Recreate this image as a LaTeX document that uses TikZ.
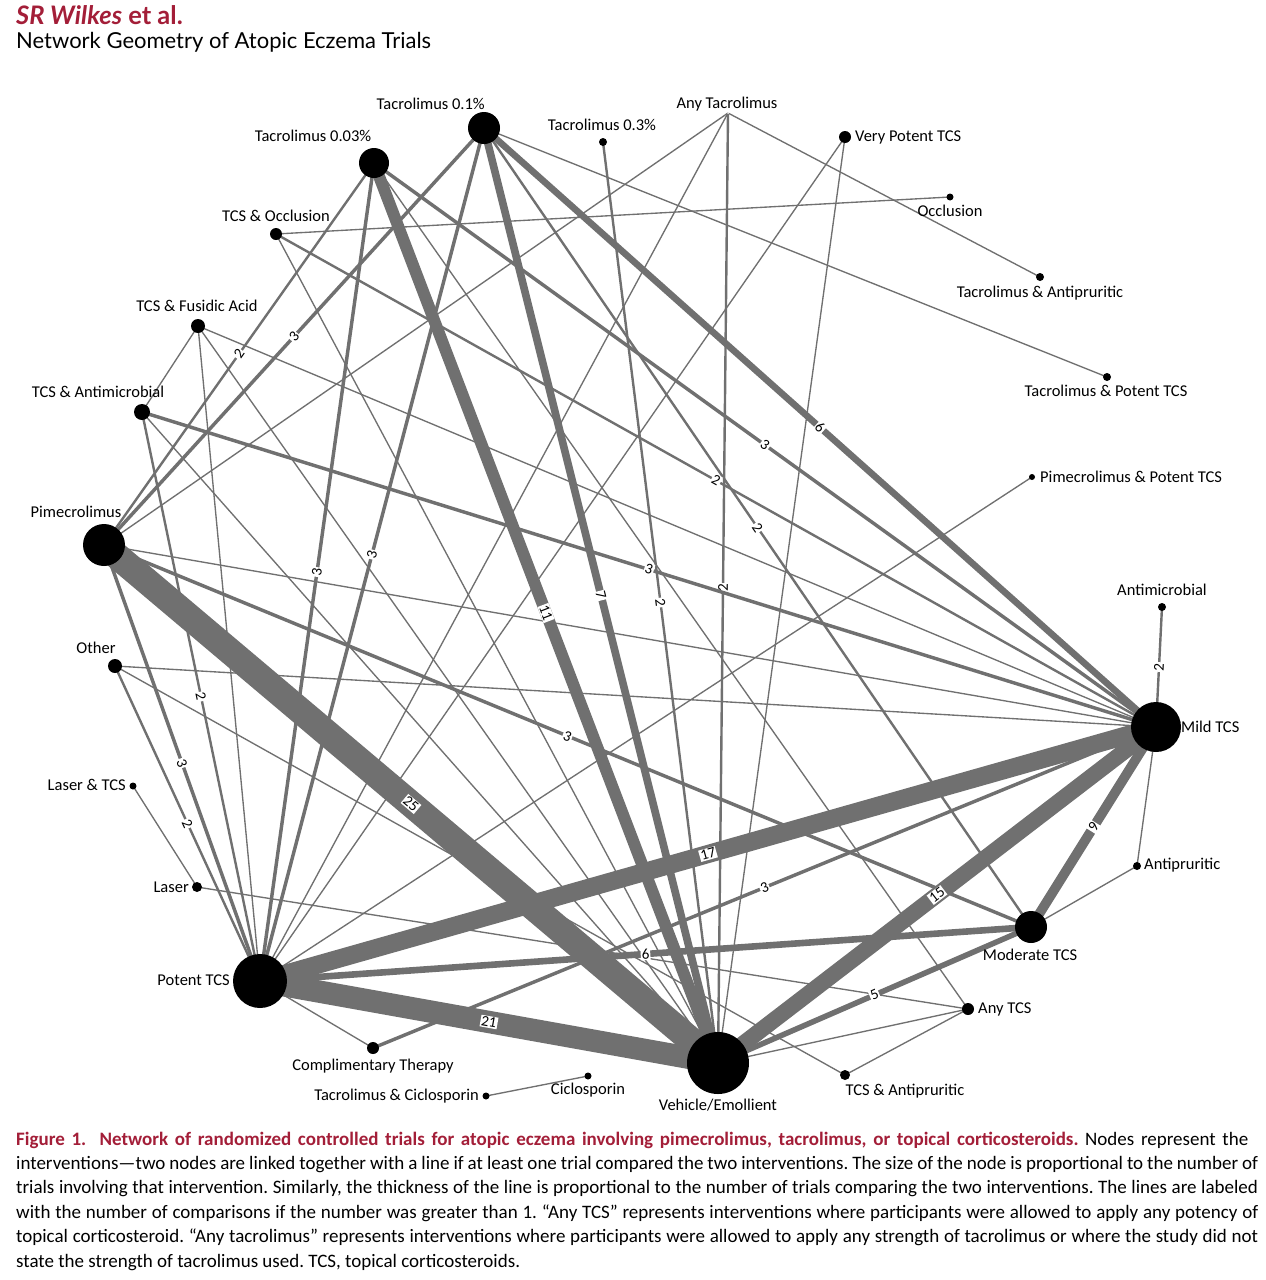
\documentclass[tikz,border=0pt]{standalone}
\usepackage{fontspec}
\setmainfont{Carlito}
\newfontfamily\headfont{Lato}
\usetikzlibrary{backgrounds}

\definecolor{linkgray}{RGB}{112,112,112}
\definecolor{jred}{RGB}{163,30,56}

\tikzset{
  drug/.style={circle, fill=black, inner sep=0pt, minimum size=#1},
  lbl/.style={font=\fontsize{16.5}{17}\selectfont, inner sep=0pt},
  link/.style={draw=linkgray, line width={(0.3+1.05*#1)*1pt}},
  cnt/.style={sloped, fill=white, inner sep=1pt, font=\fontsize{15}{15}\selectfont}
}

\begin{document}
\frenchspacing
\begin{tikzpicture}[x=1pt, y=-1pt]
  \useasboundingbox (0,0) rectangle (1266,1280);

  % heading
  \node[anchor=base west, inner sep=0pt, text=jred, font=\headfont\bfseries\fontsize{25.5}{26}\selectfont] (author) at (16,24) {\textit{SR Wilkes} et al.};
  \node[anchor=base west, inner sep=0pt, font=\headfont\fontsize{22}{22}\selectfont] (heading) at (16,48) {Network Geometry of Atopic Eczema Trials};

  % interventions
  \node [drug=62pt] (vehicle) at (718,1063) {};
  \node [drug=50pt] (mild) at (1156,727) {};
  \node [drug=54pt] (potent) at (260,981) {};
  \node [drug=42pt] (pime) at (104,545) {};
  \node [drug=32pt] (moder) at (1031,927) {};
  \node [drug=32pt] (tacB) at (484,128) {};
  \node [drug=30pt] (tacA) at (374,163) {};
  \node [drug=8pt] (tacC) at (603,142) {};
  \node [drug=2pt, fill=white] (anytac) at (728,113) {};
  \node [drug=12pt] (vpot) at (845,137) {};
  \node [drug=7pt] (occl) at (950,197) {};
  \node [drug=8pt] (tacapr) at (1040,277) {};
  \node [drug=8pt] (tacpot) at (1107,377) {};
  \node [drug=6pt] (pimpot) at (1032,477) {};
  \node [drug=8pt] (amic) at (1162,607) {};
  \node [drug=8pt] (apr) at (1137,866) {};
  \node [drug=12pt] (anytcs) at (968,1009) {};
  \node [drug=10pt] (tcsapr) at (845,1075) {};
  \node [drug=7pt] (cicl) at (588,1076) {};
  \node [drug=7pt] (taccic) at (486,1096) {};
  \node [drug=12pt] (compl) at (373,1048) {};
  \node [drug=10pt] (laser) at (197,887) {};
  \node [drug=7pt] (lasertcs) at (133,786) {};
  \node [drug=14pt] (other) at (115,666) {};
  \node [drug=16pt] (tcsam) at (142,412) {};
  \node [drug=14pt] (fusid) at (198,326) {};
  \node [drug=12pt] (tcsocc) at (276,234) {};

  % names
  \node [lbl] (vehicle-l) at (718,1105) {Vehicle/Emollient};
  \node [lbl, anchor=west] (mild-l) at (1181,727) {Mild TCS};
  \node [lbl, anchor=east] (potent-l) at (230,980) {Potent TCS};
  \node [lbl] (pime-l) at (76,512) {Pimecrolimus};
  \node [lbl] (moder-l) at (1030,955) {Moderate TCS};
  \node [lbl, anchor=east] (tacB-l) at (485,104) {Tacrolimus 0.1\%};
  \node [lbl] (tacA-l) at (313,136) {Tacrolimus 0.03\%};
  \node [lbl] (tacC-l) at (602,125) {Tacrolimus 0.3\%};
  \node [lbl] (anytac-l) at (727,104) {Any Tacrolimus};
  \node [lbl, anchor=west] (vpot-l) at (855,137) {Very Potent TCS};
  \node [lbl] (occl-l) at (950,211) {Occlusion};
  \node [lbl] (tacapr-l) at (1040,293) {Tacrolimus \& Antipruritic};
  \node [lbl] (tacpot-l) at (1106,391) {Tacrolimus \& Potent TCS};
  \node [lbl, anchor=west] (pimpot-l) at (1040,477) {Pimecrolimus \& Potent TCS};
  \node [lbl] (amic-l) at (1162,590) {Antimicrobial};
  \node [lbl, anchor=west] (apr-l) at (1144,865) {Antipruritic};
  \node [lbl, anchor=west] (anytcs-l) at (978,1009) {Any TCS};
  \node [lbl] (tcsapr-l) at (905,1091) {TCS \& Antipruritic};
  \node [lbl] (cicl-l) at (588,1090) {Ciclosporin};
  \node [lbl, anchor=east] (taccic-l) at (479,1096) {Tacrolimus \& Ciclosporin};
  \node [lbl] (compl-l) at (373,1066) {Complimentary Therapy};
  \node [lbl, anchor=east] (laser-l) at (189,887) {Laser};
  \node [lbl, anchor=east] (lasertcs-l) at (126,785) {Laser \& TCS};
  \node [lbl] (other-l) at (96,648) {Other};
  \node [lbl] (tcsam-l) at (98,392) {TCS \& Antimicrobial};
  \node [lbl] (fusid-l) at (197,306) {TCS \& Fusidic Acid};
  \node [lbl] (tcsocc-l) at (276,216) {TCS \& Occlusion};

  \begin{scope}[on background layer]
    % one trial
    \draw (pime.center) edge[link=1] (anytac.center);
    \draw (pime.center) edge[link=1] (mild.center);
    \draw (tacA.center) edge[link=1] (anytcs.center);
    \draw (tacB.center) edge[link=1] (tacpot.center);
    \draw (anytac.center) edge[link=1] (potent.center);
    \draw (anytac.center) edge[link=1] (tacapr.center);
    \draw (vpot.center) edge[link=1] (potent.center);
    \draw (vpot.center) edge[link=1] (vehicle.center);
    \draw (tcsocc.center) edge[link=1] (occl.center);
    \draw (tcsocc.center) edge[link=1] (vehicle.center);
    \draw (fusid.center) edge[link=1] (tcsam.center);
    \draw (fusid.center) edge[link=1] (potent.center);
    \draw (fusid.center) edge[link=1] (vehicle.center);
    \draw (fusid.center) edge[link=1] (mild.center);
    \draw (tcsam.center) edge[link=1] (vehicle.center);
    \draw (other.center) edge[link=1] (mild.center);
    \draw (other.center) edge[link=1] (tcsapr.center);
    \draw (lasertcs.center) edge[link=1] (laser.center);
    \draw (laser.center) edge[link=1] (anytcs.center);
    \draw (compl.center) edge[link=1] (potent.center);
    \draw (taccic.center) edge[link=1] (cicl.center);
    \draw (pimpot.center) edge[link=1] (potent.center);
    \draw (vehicle.center) edge[link=1] (anytcs.center);
    \draw (mild.center) edge[link=1] (apr.center);
    \draw (moder.center) edge[link=1] (apr.center);
    \draw (tcsapr.center) edge[link=1] (anytcs.center);

    % two or more
    \draw (pime.center) edge[link=2] node[cnt]{2} (tacA.center);
    \draw (tacB.center) edge[link=2] node[cnt]{2} (moder.center);
    \draw (tacC.center) edge[link=2] node[cnt]{2} (vehicle.center);
    \draw (anytac.center) edge[link=2] node[cnt]{2} (vehicle.center);
    \draw (tcsocc.center) edge[link=2] node[cnt]{2} (mild.center);
    \draw (tcsam.center) edge[link=2] node[cnt]{2} (potent.center);
    \draw (other.center) edge[link=2] node[cnt]{2} (potent.center);
    \draw (amic.center) edge[link=2] node[cnt]{2} (mild.center);
    \draw (pime.center) edge[link=3] node[cnt]{3} (tacB.center);
    \draw (pime.center) edge[link=3] node[cnt]{3} (moder.center);
    \draw (pime.center) edge[link=3] node[cnt]{3} (potent.center);
    \draw (tacA.center) edge[link=3] node[cnt]{3} (potent.center);
    \draw (tacA.center) edge[link=3] node[cnt]{3} (mild.center);
    \draw (tacB.center) edge[link=3] node[cnt]{3} (potent.center);
    \draw (tcsam.center) edge[link=3] node[cnt]{3} (mild.center);
    \draw (compl.center) edge[link=3] node[cnt]{3} (mild.center);
    \draw (vehicle.center) edge[link=5] node[cnt]{5} (moder.center);
    \draw (potent.center) edge[link=6] node[cnt]{6} (moder.center);
    \draw (tacB.center) edge[link=6] node[cnt]{6} (mild.center);
    \draw (tacB.center) edge[link=7] node[cnt]{7} (vehicle.center);
    \draw (mild.center) edge[link=9] node[cnt]{9} (moder.center);
    \draw (tacA.center) edge[link=11] node[cnt]{11} (vehicle.center);
    \draw (vehicle.center) edge[link=15] node[cnt]{15} (mild.center);
    \draw (potent.center) edge[link=17] node[cnt]{17} (mild.center);
    \draw (potent.center) edge[link=21] node[cnt]{21} (vehicle.center);
    \draw (pime.center) edge[link=25] node[cnt]{25} (vehicle.center);
  \end{scope}

  % legend text
  \node[anchor=base west, inner sep=0pt, font=\fontsize{19}{24.4}\selectfont, align=left] (legend) at (16,1267) {%
    \makebox[1232pt][s]{\textcolor{jred}{\bfseries Figure 1.\ \ Network of randomized controlled trials for atopic eczema involving pimecrolimus, tacrolimus, or topical corticosteroids.} Nodes represent the}\\
    \makebox[1242pt][s]{interventions---two nodes are linked together with a line if at least one trial compared the two interventions. The size of the node is proportional to the number of}\\
    \makebox[1242pt][s]{trials involving that intervention. Similarly, the thickness of the line is proportional to the number of trials comparing the two interventions. The lines are labeled}\\
    \makebox[1242pt][s]{with the number of comparisons if the number was greater than 1. ``Any TCS'' represents interventions where participants were allowed to apply any potency of}\\
    \makebox[1242pt][s]{topical corticosteroid. ``Any tacrolimus'' represents interventions where participants were allowed to apply any strength of tacrolimus or where the study did not}\\
    state the strength of tacrolimus used. TCS, topical corticosteroids.};
\end{tikzpicture}
\end{document}
